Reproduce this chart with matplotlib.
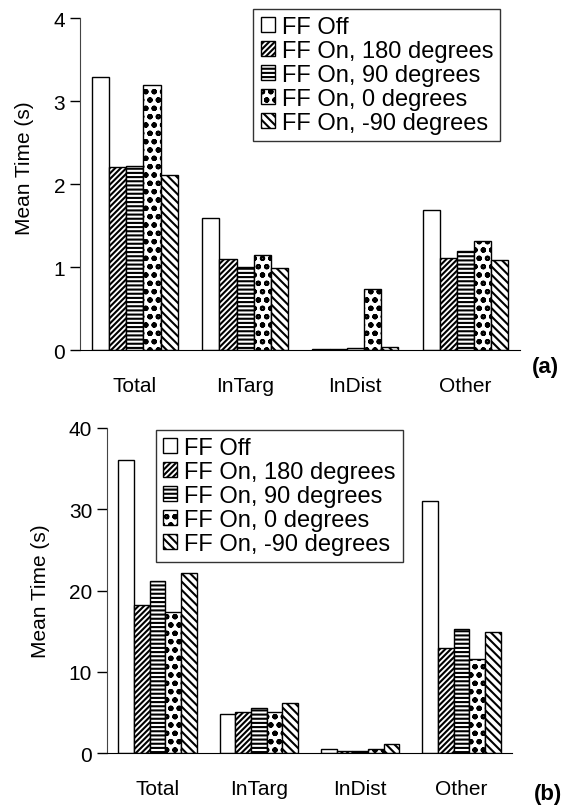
import numpy as np
import matplotlib
matplotlib.use('Agg')
import matplotlib.pyplot as plt

plt.rcParams['font.family'] = ['Liberation Sans', 'DejaVu Sans']
plt.rcParams['hatch.linewidth'] = 1.5

categories = ['Total', 'InTarg', 'InDist', 'Other']
series = ['FF Off', 'FF On, 180 degrees', 'FF On, 90 degrees',
          'FF On, 0 degrees', 'FF On, -90 degrees']
hatches = ['', '//////', '----', 'oo', '\\\\\\\\']

# panel (a)
vals_a = [
    [3.29, 1.59, 0.01, 1.69],   # FF Off
    [2.20, 1.10, 0.01, 1.11],   # 180
    [2.22, 1.00, 0.03, 1.19],   # 90
    [3.19, 1.15, 0.73, 1.31],   # 0
    [2.11, 0.99, 0.04, 1.08],   # -90
]
# panel (b)
vals_b = [
    [36.1, 4.8, 0.5, 31.0],
    [18.2, 5.1, 0.2, 12.9],
    [21.2, 5.5, 0.3, 15.3],
    [17.4, 5.1, 0.5, 11.6],
    [22.2, 6.1, 1.1, 14.9],
]

fig = plt.figure(figsize=(5.71, 8.12), dpi=100)
ax_a = fig.add_axes([0.140, 0.5677, 0.771, 0.4089])
ax_b = fig.add_axes([0.187, 0.0714, 0.710, 0.4003])

w = 0.155
x = np.arange(len(categories))


def draw(ax, vals, ymax, step, anchor, loc):
    for i, (v, h) in enumerate(zip(vals, hatches)):
        ax.bar(x + (i - 2) * w, v, w, color='white', edgecolor='black',
               linewidth=1, hatch=h, label=series[i])
    ax.set_xlim(-0.5, 3.5)
    ax.set_ylim(0, ymax)
    ax.set_yticks(np.arange(0, ymax + step / 2, step))
    ax.set_xticks(x)
    ax.set_xticklabels(categories)
    ax.tick_params(axis='x', length=0, pad=19, labelsize=15)
    ax.tick_params(axis='y', length=7, width=1, labelsize=15, direction='out')
    for s in ['top', 'right']:
        ax.spines[s].set_visible(False)
    ax.spines['left'].set_color('#444444')
    ax.set_ylabel('Mean Time (s)', fontsize=15)
    leg = ax.legend(loc=loc, bbox_to_anchor=anchor, borderaxespad=0,
                    fontsize=17, frameon=True, fancybox=False,
                    handlelength=0.6, handleheight=0.6, handletextpad=0.3,
                    labelspacing=0.08, borderpad=0.3)
    leg.get_frame().set_edgecolor('black')
    leg.get_frame().set_linewidth(1)


draw(ax_a, vals_a, 4, 1, (0.955, 1.027), 'upper right')
draw(ax_b, vals_b, 40, 10, (0.121, 0.994), 'upper left')
ax_a.yaxis.set_label_coords(-0.105, 0.55)
ax_b.yaxis.set_label_coords(-0.14, 0.5)

fig.text(0.955, 1 - 368 / 812, '(a)', fontsize=16, fontweight='bold',
         ha='center', va='center')
fig.text(0.96, 1 - 795 / 812, '(b)', fontsize=16, fontweight='bold',
         ha='center', va='center')

plt.savefig('out.png', dpi=100)
